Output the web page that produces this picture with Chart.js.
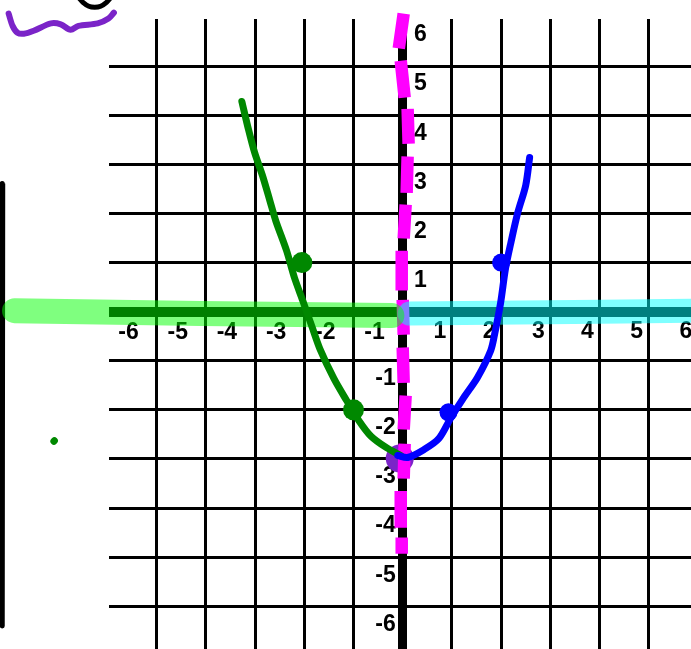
<!DOCTYPE html>
<html>
<head>
<meta charset="utf-8">
<style>html,body{margin:0;padding:0;background:#fff}canvas{display:block}</style>
<script src="https://cdn.jsdelivr.net/npm/chart.js@4/dist/chart.umd.js"></script>
</head>
<body>
<canvas id="c" width="691" height="649"></canvas>
<script>
const tickValues = [-6,-5,-4,-3,-2,-1,0,1,2,3,4,5,6];
const greenCurve = [[-3.27,4.28],[-3.13,3.69],[-3.01,3.24],[-2.85,2.77],[-2.70,2.26],[-2.58,1.85],[-2.36,1.24],[-2.20,.69],[-2.03,.22],[-1.85,-.29],[-1.67,-.79],[-1.40,-1.36],[-1.14,-1.81],[-.89,-2.22],[-.65,-2.53],[-.33,-2.77],[-.04,-2.93]];
const blueCurve = [[-.10,-2.93],[.10,-2.97],[.43,-2.81],[.73,-2.59],[.98,-2.16],[1.24,-1.75],[1.52,-1.34],[1.79,-.79],[1.87,-.45],[1.99,.18],[2.09,.88],[2.20,1.41],[2.34,2.02],[2.50,2.57],[2.58,3.14]];
const greenPoints = [[-2.05,1],[-1,-2]];
const bluePoints = [[2,1],[.93,-2.05]];
const purplePoint = [[-.06,-2.99]];
const magentaDashes = [
 [[.02,6.07],[-.08,5.36]],[[-.04,5.11],[.04,4.36]],[[.10,4.13],[.12,3.42]],[[.10,3.16],[.08,2.42]],
 [[.06,2.18],[.02,1.49]],[[-.02,1.24],[-.02,.43]],[[0,.24],[.02,-.47]],[[0,-.73],[.02,-1.45]],
 [[.06,-1.71],[.02,-2.40]],[[.04,-2.69],[.02,-3.40]],[[-.04,-3.65],[-.04,-4.40]],[[-.02,-4.60],[-.02,-4.93]]
];
const greenBand = [[-.22,-.08],[-4.11,-.04],[-7.89,.02]];
const cyanBand = [[6.2,.02],[4.02,0],[.14,-.04]];
const purpleScribble = [[-5.87,6.09],[-5.98,5.97],[-6.20,5.87],[-6.59,5.82],[-6.75,5.74],[-6.95,5.85],[-7.15,5.87],[-7.50,5.72],[-7.70,5.66],[-7.83,5.68],[-7.93,5.82],[-8.01,6.07]];
const blackArc = [[-5.93,6.40],[-6.02,6.30],[-6.14,6.22],[-6.26,6.20],[-6.38,6.22],[-6.50,6.30],[-6.59,6.40]];
const blackBar = [[-8.13,2.61],[-8.14,-6.40]];
const greenSpeck = [[-7.08,-2.63],[-7.09,-2.64]];

const toXY = a => a.map(([x,y]) => ({x,y}));
const dashes = magentaDashes.flatMap(s => [...toXY(s), {x:NaN,y:NaN}]);
const stroke = (data,color,width,extra={}) => ({data:toXY(data),borderColor:color,borderWidth:width,pointRadius:0,borderCapStyle:'round',borderJoinStyle:'round',fill:false,tension:.3,clip:false,...extra});
const dots = (data,color,r) => ({data:toXY(data),showLine:false,pointRadius:r,pointBackgroundColor:color,pointBorderWidth:0,clip:false});
const setTicks = s => { s.ticks = tickValues.map(value => ({value})); };
const negLabel = v => v < 0 ? String(v) : '';
const posLabel = v => v > 0 ? String(v) : '';
const font = {family:'"Liberation Sans"',size:23,weight:'bold'};
const noPad = s => { s.paddingLeft = s.paddingRight = s.paddingTop = s.paddingBottom = 0; };
const xBase = {type:'linear',min:-5.97,max:5.86,position:{y:0},afterBuildTicks:setTicks,afterFit:s=>{s.height=0;noPad(s)},border:{display:false}};
const yBase = {type:'linear',min:-6.87,max:5.96,afterBuildTicks:setTicks,afterFit:s=>{s.width=0;noPad(s)},border:{display:false}};
const noGrid = {display:false};
const clear = 'rgba(0,0,0,0)';

new Chart(document.getElementById('c'),{
  type:'line',
  data:{datasets:[
    dots(bluePoints,'#0000ff',9),
    stroke(blueCurve,'#0000ff',7),
    dots(greenPoints,'#008800',10.5),
    stroke(greenCurve,'#008800',7),
    stroke(greenBand,'rgba(0,255,0,.5)',25,{tension:0}),
    stroke(cyanBand,'rgba(0,255,255,.5)',24,{tension:0}),
    {data:dashes,borderColor:'#ff00ff',borderWidth:12.5,pointRadius:0,borderCapStyle:'butt',spanGaps:false,clip:false,tension:0},
    dots(purplePoint,'#7b24c8',14),
    stroke(purpleScribble,'#7b24c8',6),
    stroke(blackArc,'#000000',5),
    stroke(blackBar,'#000000',5,{borderCapStyle:'butt',tension:0}),
    stroke(greenSpeck,'#008800',7)
  ]},
  options:{
    responsive:false,animation:false,
    layout:{autoPadding:false,padding:{left:109,top:19,right:0,bottom:0}},
    plugins:{legend:{display:false},tooltip:{enabled:false}},
    scales:{
      x:{...xBase,
        grid:{drawTicks:false,color:c=>c.tick&&c.tick.value===-6?clear:'#000',lineWidth:c=>c.tick&&c.tick.value===0?9:3},
        ticks:{color:'#000',font,padding:7,labelOffset:21,autoSkip:false,maxRotation:0,callback:negLabel}},
      x2:{...xBase,axis:'x',grid:noGrid,
        ticks:{color:'#000',font,padding:-2,labelOffset:-12,autoSkip:false,maxRotation:0,callback:posLabel}},
      y:{...yBase,position:{x:-.14},
        grid:{drawTicks:false,color:c=>c.tick&&c.tick.value===6?clear:'#000',lineWidth:c=>c.tick&&c.tick.value===0?10:3},
        ticks:{color:'#000',font,labelOffset:18,autoSkip:false,callback:negLabel}},
      y2:{...yBase,axis:'y',position:{x:.49},grid:noGrid,
        ticks:{color:'#000',font,labelOffset:18,autoSkip:false,callback:posLabel}}
    }
  }
});
</script>
</body>
</html>
